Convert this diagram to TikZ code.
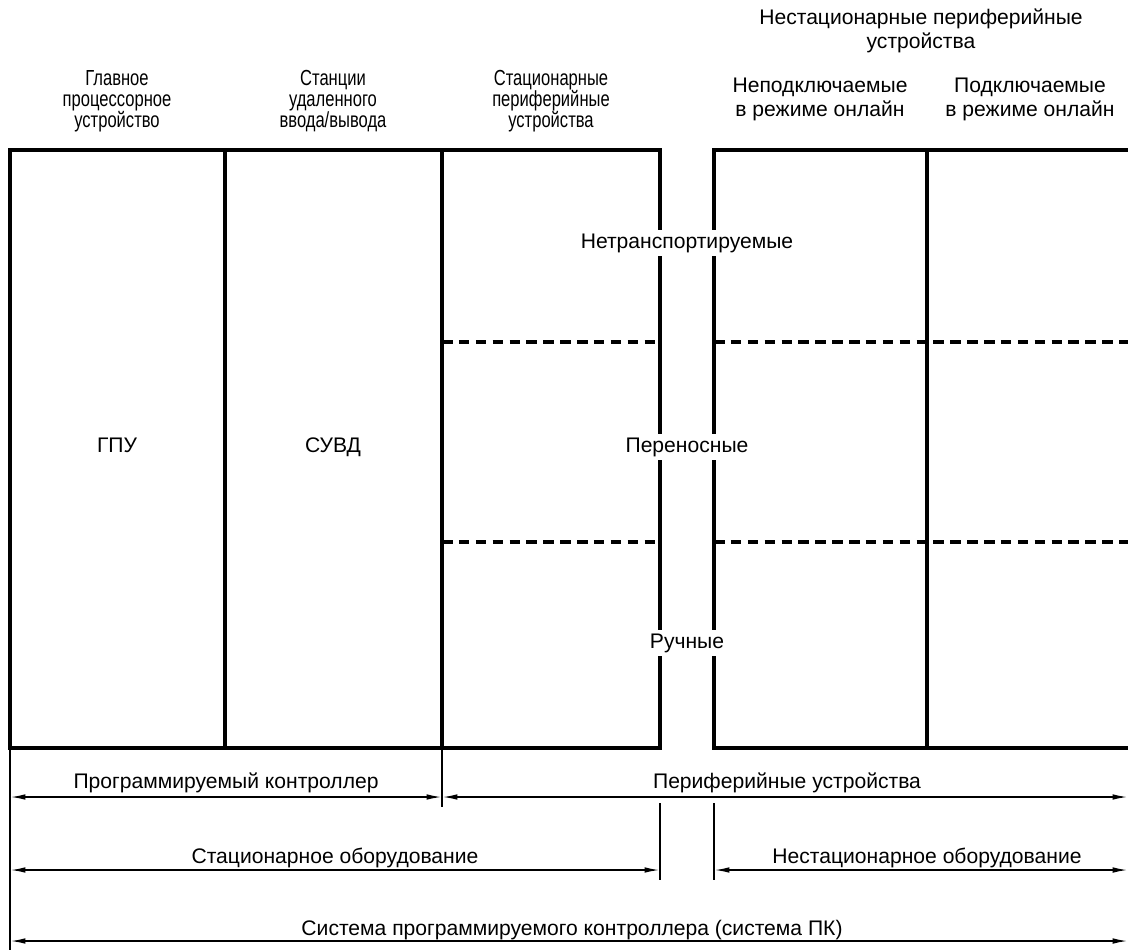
\documentclass[tikz,border=0pt]{standalone}
\usepackage{fontspec}
\setmainfont{Liberation Sans}
\newfontfamily\narrowfont[FakeStretch=0.76]{Liberation Sans}
\usetikzlibrary{arrows.meta}
\tikzstyle{boxline} = [line width=2.6pt]
\tikzstyle{divider} = [line width=2.4pt, dash pattern=on 7.5pt off 4.5pt]
\tikzstyle{ext} = [line width=1.2pt]
\tikzstyle{dim} = [line width=1.2pt, {Latex[length=11pt,width=4pt]}-{Latex[length=11pt,width=4pt]}]
\tikzstyle{head} = [align=center, font=\narrowfont\fontsize{15.5}{15}\selectfont]
\tikzstyle{headr} = [align=center, font=\fontsize{15}{17}\selectfont]
\tikzstyle{dimtext} = [anchor=base, font=\fontsize{15}{17}\selectfont]
\tikzstyle{kind} = [dimtext, fill=white, inner sep=2.5pt]

\begin{document}
\begin{tikzpicture}[x=0.025cm, y=-0.025cm]
\useasboundingbox (0,0) rectangle (1128,950);

% frames
\draw [boxline] (10,150) rectangle (660,748);
\draw [boxline] (225,150) -- (225,748);
\draw [boxline] (442,150) -- (442,748);
\draw [boxline] (1128,150) -- (714,150) -- (714,748) -- (1128,748);
\draw [boxline] (927,150) -- (927,748);
\foreach \y in {342,542} {
  \draw [divider] (442,\y) -- (660,\y);
  \draw [divider] (714,\y) -- (1128,\y);
}

% column headers
\node (cpu) [head] at (117,101) {Главное\\процессорное\\устройство};
\node (rio) [head] at (333,101) {Станции\\удаленного\\ввода/вывода};
\node (fixper) [head] at (551,101) {Стационарные\\периферийные\\устройства};
\node (mobper) [headr] at (921,31) {Нестационарные периферийные\\устройства};
\node (offline) [headr] at (820,99) {Неподключаемые\\в режиме онлайн};
\node (online) [headr] at (1030,99) {Подключаемые\\в режиме онлайн};

\node (gpu) [dimtext] at (117,452) {ГПУ};
\node (suvd) [dimtext] at (333,452) {СУВД};

\node (nontrans) [kind] at (687,248) {Нетранспортируемые};
\node (portable) [kind] at (687,452) {Переносные};
\node (handheld) [kind] at (687,648) {Ручные};

% dimension lines
\draw [ext] (10,748) -- (10,950);
\draw [ext] (442,748) -- (442,807);
\draw [ext] (660,803) -- (660,880);
\draw [ext] (714,803) -- (714,880);

\coordinate (pcL) at (10,797);
\coordinate (pcR) at (442,797);
\coordinate (perR) at (1128,797);
\coordinate (statL) at (10,870);
\coordinate (statR) at (660,870);
\coordinate (mobL) at (714,870);
\coordinate (mobR) at (1128,870);
\coordinate (sysL) at (10,941);
\coordinate (sysR) at (1128,941);

\draw [dim] (pcL) -- (pcR);
\draw [dim] (pcR) -- (perR);
\draw [dim] (statL) -- (statR);
\draw [dim] (mobL) -- (mobR);
\draw [dim] (sysL) -- (sysR);

\node (pc) [dimtext] at (226,788) {Программируемый контроллер};
\node (periph) [dimtext] at (787,788) {Периферийные устройства};
\node (stat) [dimtext] at (335,863) {Стационарное оборудование};
\node (mob) [dimtext] at (927,863) {Нестационарное оборудование};
\node (sys) [dimtext] at (572,935) {Система программируемого контроллера (система ПК)};

\end{tikzpicture}
\end{document}
